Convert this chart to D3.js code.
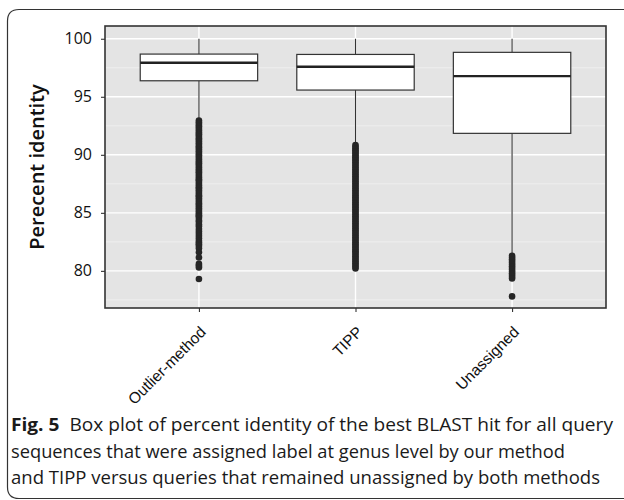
<!DOCTYPE html>
<html>
<head>
<meta charset="utf-8">
<script src="https://cdn.jsdelivr.net/npm/d3@7"></script>
<style>
  body { margin: 0; background: #fff; }
  svg { display: block; }
</style>
</head>
<body>
<div id="chart"></div>
<script>
// box plot stats
const categories = ["Outlier-method", "TIPP", "Unassigned"];
const whisker_high = [100, 100, 100];
const q3_vals = [98.68, 98.65, 98.83];
const median_vals = [97.93, 97.59, 96.78];
const q1_vals = [96.38, 95.58, 91.85];
const whisker_low = [93.0, 90.9, 81.35];

const outliers_outlier_method = [92.95, 92.8, 92.65, 92.5, 92.4, 92.25, 92.1, 91.95, 91.8, 91.7, 91.55, 91.4, 91.3, 91.15, 91.0,
  90.85, 90.7, 90.6, 90.45, 90.3, 90.15, 90.0, 89.9, 89.75, 89.6, 89.45, 89.3, 89.2, 89.05, 88.9, 88.75, 88.6, 88.5, 88.35,
  88.2, 88.05, 87.9, 87.8, 87.65, 87.5, 87.35, 87.2, 87.1, 86.95, 86.8, 86.65, 86.5, 86.4, 86.25, 86.1, 85.95, 85.8, 85.7,
  85.55, 85.4, 85.25, 85.1, 84.95, 84.8, 84.7, 84.55, 84.35, 84.2, 84.0, 83.85, 83.6, 83.4, 83.2, 83.0, 82.8, 82.6, 82.45,
  82.3, 82.15, 81.95, 81.6, 81.15, 80.6, 80.45, 80.3, 79.3];
const outliers_tipp = [90.85, 90.7, 90.55, 90.4, 90.25, 90.1, 89.95, 89.8, 89.65, 89.5, 89.35, 89.2, 89.05, 88.9, 88.75,
  88.6, 88.45, 88.3, 88.15, 88.0, 87.85, 87.7, 87.55, 87.4, 87.25, 87.1, 86.95, 86.8, 86.65, 86.5, 86.35, 86.2, 86.05, 85.9,
  85.75, 85.6, 85.45, 85.3, 85.15, 85.0, 84.85, 84.7, 84.55, 84.4, 84.25, 84.1, 83.95, 83.8, 83.65, 83.5, 83.35, 83.2, 83.05,
  82.9, 82.75, 82.6, 82.45, 82.3, 82.15, 82.0, 81.85, 81.7, 81.55, 81.4, 81.25, 81.1, 80.95, 80.8, 80.65, 80.5, 80.35, 80.2];
const outliers_unassigned = [81.3, 81.15, 81.0, 80.85, 80.7, 80.55, 80.4, 80.25, 80.1, 79.95, 79.8, 79.65, 79.5, 79.35, 77.8];

const y_ticks = [80, 85, 90, 95, 100];
const y_minor = [77.5, 82.5, 87.5, 92.5, 97.5];

const y_title = "Perecent identity";
const caption_lines = [
  ["Fig. 5", "  Box plot of percent identity of the best BLAST hit for all query"],
  ["", "sequences that were assigned label at genus level by our method"],
  ["", "and TIPP versus queries that remained unassigned by both methods"]
];

function drawChart() {
  const width = 624, height = 500;
  const panel = {left: 105, right: 606, top: 26, bottom: 308};

  let svg = d3.select("#chart").append("svg")
    .attr("width", width)
    .attr("height", height);

  // outer frame (open on the right like the clipped figure)
  svg.append("path")
    .attr("d", "M624,9.5 L19,9.5 Q7.5,9.5 7.5,21 L7.5,487 Q7.5,498.5 19,498.5 L624,498.5")
    .attr("fill", "none")
    .attr("stroke", "#333")
    .attr("stroke-width", 1.2);

  let x = d3.scalePoint().domain(categories).range([panel.left, panel.right]).padding(0.6);
  let y = d3.scaleLinear().domain([76.8, 101.1]).range([panel.bottom, panel.top]);
  const box_w = x.step() * 0.75;

  let g = svg.append("g");

  g.append("rect")
    .attr("x", panel.left).attr("y", panel.top)
    .attr("width", panel.right - panel.left).attr("height", panel.bottom - panel.top)
    .attr("fill", "#e4e4e4");

  g.selectAll(".minor").data(y_minor).enter().append("line")
    .attr("x1", panel.left).attr("x2", panel.right)
    .attr("y1", d => y(d)).attr("y2", d => y(d))
    .attr("stroke", "#f3f3f3").attr("stroke-width", 0.7);

  g.selectAll(".major").data(y_ticks).enter().append("line")
    .attr("x1", panel.left).attr("x2", panel.right)
    .attr("y1", d => y(d)).attr("y2", d => y(d))
    .attr("stroke", "#fff").attr("stroke-width", 1.4);

  g.selectAll(".vgrid").data(categories).enter().append("line")
    .attr("x1", d => x(d)).attr("x2", d => x(d))
    .attr("y1", panel.top).attr("y2", panel.bottom)
    .attr("stroke", "#fff").attr("stroke-width", 1.4);

  let boxes = categories.map(function(c, i) {
    return {cat: c, hi: whisker_high[i], q3: q3_vals[i], med: median_vals[i], q1: q1_vals[i], lo: whisker_low[i]};
  });

  let bg = g.selectAll(".box").data(boxes).enter().append("g").attr("class", "box");

  bg.append("line")
    .attr("x1", d => x(d.cat)).attr("x2", d => x(d.cat))
    .attr("y1", d => y(d.hi)).attr("y2", d => y(d.q3))
    .attr("stroke", "#333").attr("stroke-width", 1.1);
  bg.append("line")
    .attr("x1", d => x(d.cat)).attr("x2", d => x(d.cat))
    .attr("y1", d => y(d.q1)).attr("y2", d => y(d.lo))
    .attr("stroke", "#333").attr("stroke-width", 1.1);
  bg.append("rect")
    .attr("x", d => x(d.cat) - box_w / 2).attr("width", box_w)
    .attr("y", d => y(d.q3)).attr("height", d => y(d.q1) - y(d.q3))
    .attr("fill", "#fff").attr("stroke", "#333").attr("stroke-width", 1.2);
  bg.append("line")
    .attr("x1", d => x(d.cat) - box_w / 2).attr("x2", d => x(d.cat) + box_w / 2)
    .attr("y1", d => y(d.med)).attr("y2", d => y(d.med))
    .attr("stroke", "#222").attr("stroke-width", 2.4);

  let outlier_sets = [outliers_outlier_method, outliers_tipp, outliers_unassigned];
  let pts = [];
  outlier_sets.forEach(function(arr, i) {
    arr.forEach(function(v) { pts.push({cat: categories[i], v: v}); });
  });
  g.selectAll(".pt").data(pts).enter().append("circle")
    .attr("cx", d => x(d.cat)).attr("cy", d => y(d.v))
    .attr("r", 3.3).attr("fill", "#262626");

  // panel border
  g.append("rect")
    .attr("x", panel.left).attr("y", panel.top)
    .attr("width", panel.right - panel.left).attr("height", panel.bottom - panel.top)
    .attr("fill", "none").attr("stroke", "#333").attr("stroke-width", 1.6);

  // y axis
  let yax = svg.append("g")
    .attr("transform", "translate(" + panel.left + ",0)")
    .call(d3.axisLeft(y).tickValues(y_ticks).tickSize(4).tickPadding(9));
  yax.select(".domain").remove();
  yax.selectAll(".tick line").attr("stroke", "#333").attr("stroke-width", 1.1);
  yax.selectAll(".tick text")
    .attr("font-family", "'Open Sans', sans-serif").attr("font-size", 16)
    .attr("font-weight", 500).attr("fill", "#111");

  // x axis
  let xax = svg.append("g")
    .attr("transform", "translate(0," + panel.bottom + ")")
    .call(d3.axisBottom(x).tickSize(4).tickFormat(""));
  xax.select(".domain").remove();
  xax.selectAll(".tick line").attr("stroke", "#333").attr("stroke-width", 1.1);

  svg.selectAll(".xlab").data(categories).enter().append("text")
    .attr("transform", d => "translate(" + (x(d) + 8) + ",333) rotate(-45)")
    .attr("text-anchor", "end")
    .attr("font-family", "'Liberation Sans', Arial, sans-serif")
    .attr("font-size", 15.5)
    .attr("fill", "#111")
    .text(d => d);

  svg.append("text")
    .attr("transform", "translate(44," + ((panel.top + panel.bottom) / 2) + ") rotate(-90)")
    .attr("text-anchor", "middle")
    .attr("font-family", "'Open Sans', sans-serif")
    .attr("font-size", 20)
    .attr("font-weight", 600)
    .attr("fill", "#111")
    .text(y_title);

  // caption
  const cap_len = [602, 554, 589];
  let cap = svg.selectAll(".cap").data(caption_lines).enter().append("text")
    .attr("x", 11)
    .attr("y", (d, i) => 431 + i * 26.5)
    .attr("font-family", "'Open Sans', sans-serif")
    .attr("font-size", 18.5)
    .attr("fill", "#1a1a1a")
    .attr("textLength", (d, i) => cap_len[i])
    .attr("lengthAdjust", "spacingAndGlyphs")
    .style("white-space", "pre");
  cap.append("tspan").attr("font-weight", "bold").text(d => d[0]);
  cap.append("tspan").text(d => d[1]);
}

drawChart();
</script>
</body>
</html>
